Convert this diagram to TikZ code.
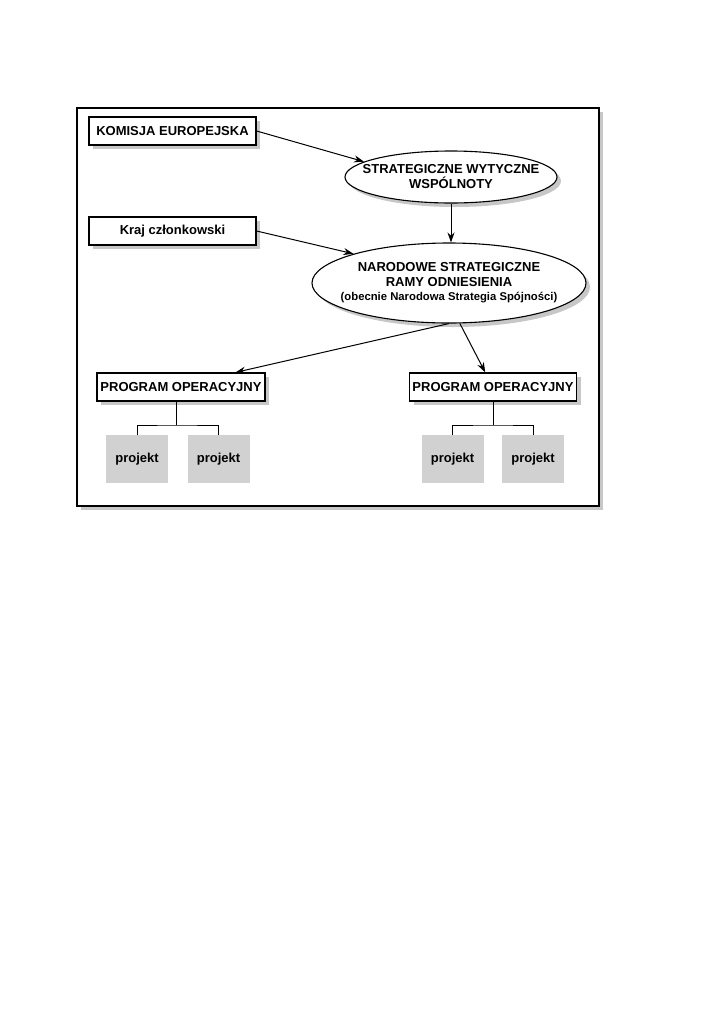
\documentclass[tikz,border=0pt]{standalone}
\usepackage{fontspec}
\setmainfont{Liberation Sans}
\usetikzlibrary{shapes.geometric,shadows,arrows.meta,calc}
\begin{document}
\begin{tikzpicture}[x=1pt,y=-1pt,
  font=\fontsize{13}{15}\selectfont\bfseries,
  shad/.style={drop shadow={shadow xshift=4pt,shadow yshift=-4pt,fill=black!22,opacity=1}},
  tbox/.style={draw,line width=1.2pt,fill=white,shad,inner sep=0pt,minimum height=28pt},
  oval/.style={ellipse,draw,line width=1.1pt,fill=white,shad,inner sep=-60pt,align=center},
  proj/.style={fill=black!18,inner sep=0pt,minimum width=62pt,minimum height=48pt},
  arr/.style={line width=1pt,-{Stealth[length=10pt,width=7pt]}},
  tree/.style={line width=1pt}]
\useasboundingbox (0,0) rectangle (705,1018);
\fill[white] (0,0) rectangle (705,1018);
\node[draw,line width=1.4pt,fill=white,shad,minimum width=522pt,minimum height=398pt,inner sep=0pt] (frame) at (338,307) {};
\node[tbox,minimum width=167pt] (ke) at (172.5,131) {KOMISJA EUROPEJSKA};
\node[tbox,minimum width=167pt] (kraj) at (172.5,231) {Kraj członkowski};
\node[oval,minimum width=212pt,minimum height=52pt] (e1) at (451,177) {STRATEGICZNE WYTYCZNE\\WSPÓLNOTY};
\node[oval,minimum width=274pt,minimum height=80pt] (e2) at (449,283) {NARODOWE STRATEGICZNE\\RAMY ODNIESIENIA\\[-1pt]{\fontsize{11.3}{13}\selectfont (obecnie Narodowa Strategia Spójności)}};
\node[tbox,minimum width=168pt] (po1) at (181,387) {PROGRAM OPERACYJNY};
\node[tbox,minimum width=167pt] (po2) at (493,387) {PROGRAM OPERACYJNY};
\node[proj] (p1) at (137,459) {projekt};
\node[proj] (p2) at (218.5,459) {projekt};
\node[proj] (p3) at (452.5,459) {projekt};
\node[proj] (p4) at (533,459) {projekt};
\coordinate (j1) at (176.5,425);
\coordinate (j2) at (493,425);
\draw[arr] (ke.east) -- (e1.170);
\draw[arr] (kraj.east) -- (e2.163);
\draw[arr] (e1.south) -- (e1.south |- e2.north);
\draw[arr] (e2.south) -- (po1.15);
\draw[arr] (e2.-75) -- (po2.118);
\draw[tree] (j1) -- (j1 |- po1.south);
\draw[tree] (p1.north) |- (j1) -| (p2.north);
\draw[tree] (j2) -- (j2 |- po2.south);
\draw[tree] (p3.north) |- (j2) -| (p4.north);
\end{tikzpicture}
\end{document}
